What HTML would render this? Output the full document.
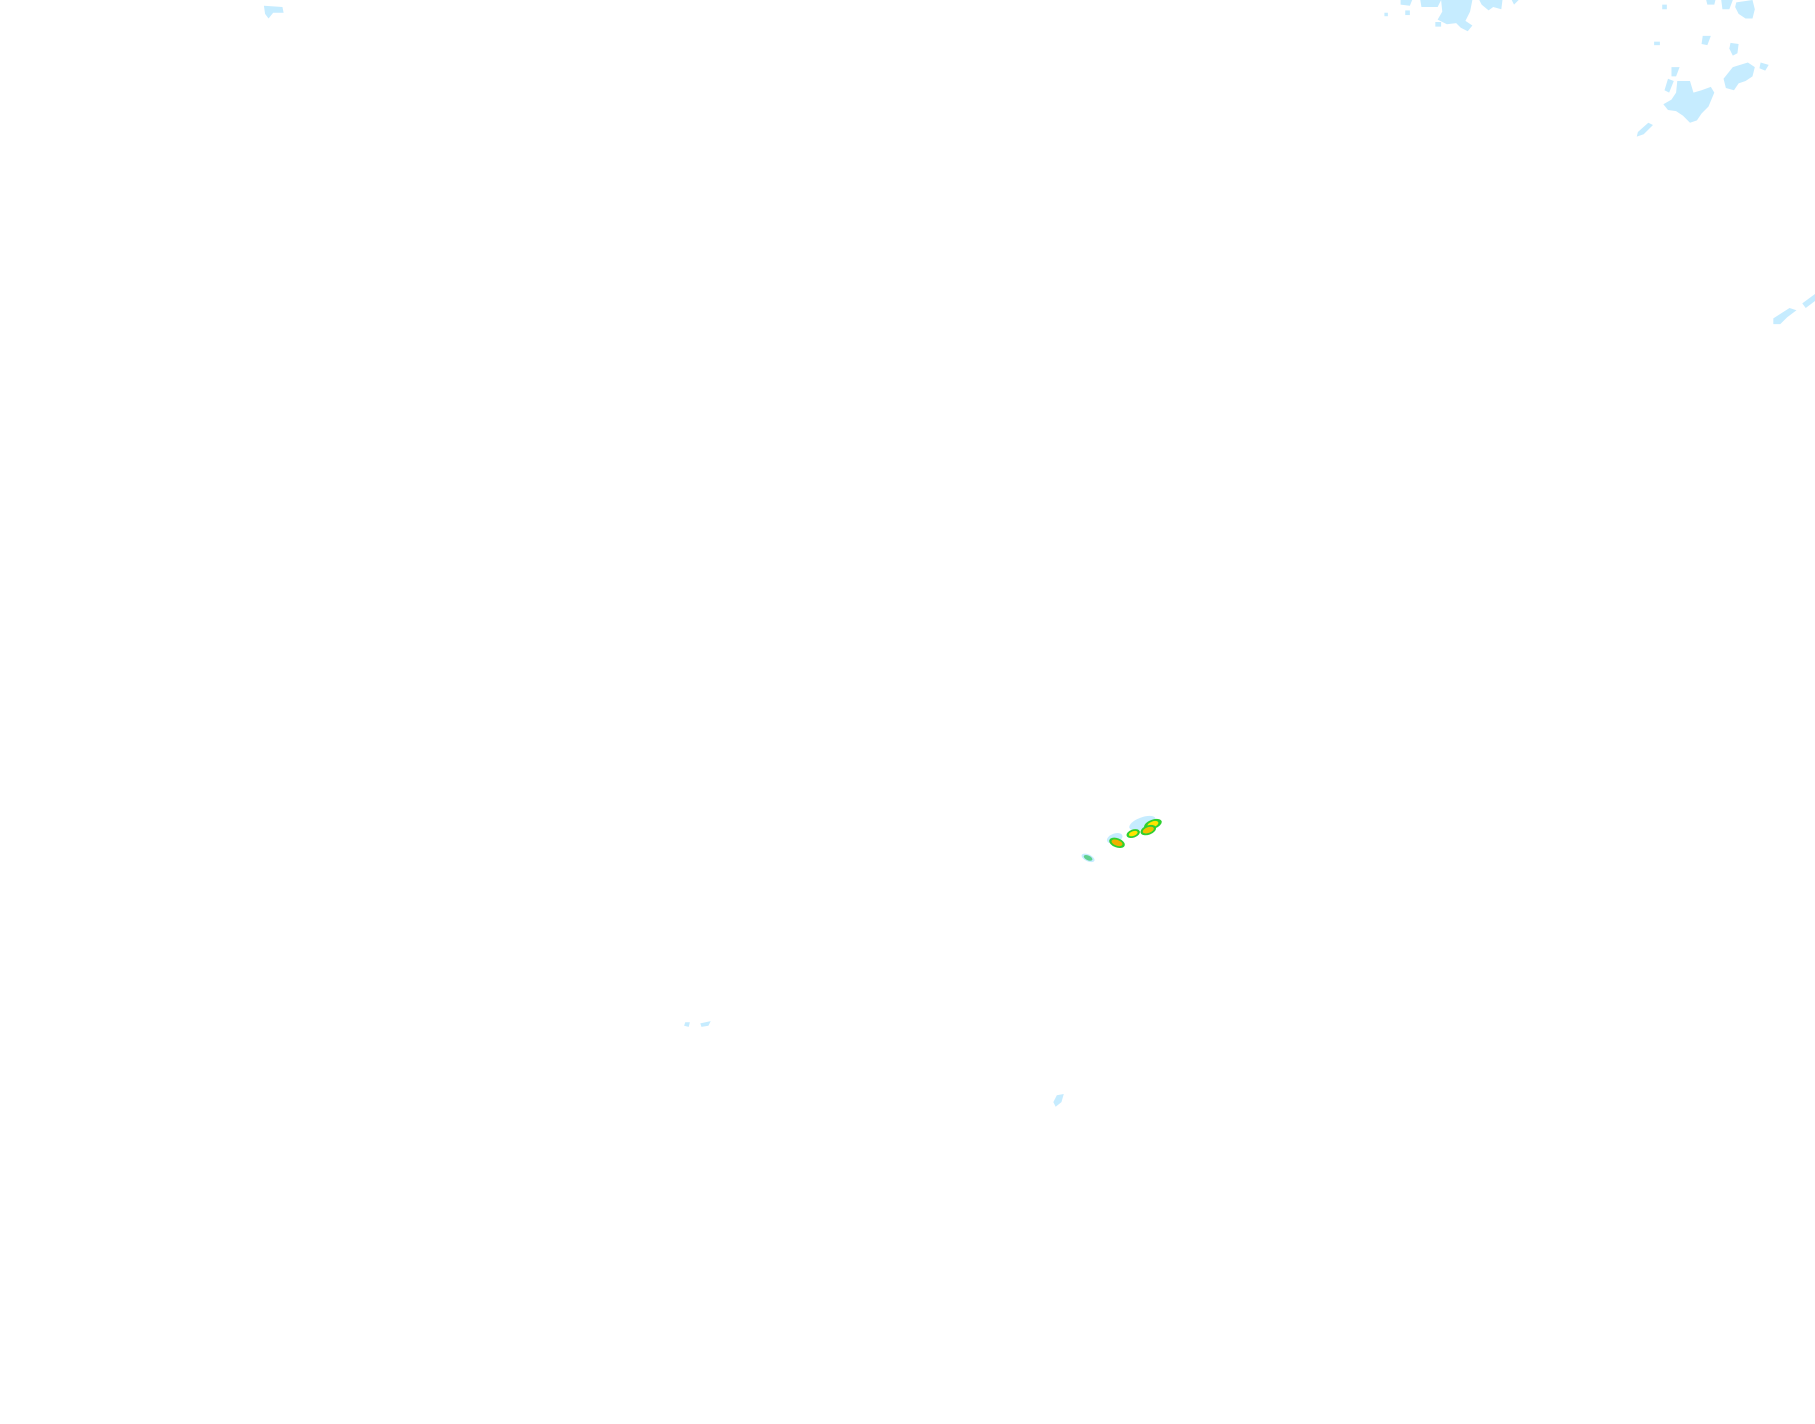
<!DOCTYPE html>
<html><head><meta charset="utf-8"><style>
html,body{margin:0;padding:0;background:#fff;width:1815px;height:1424px;overflow:hidden}
svg{display:block}
</style></head><body>
<svg width="1815" height="1424" viewBox="0 0 1568 1230" preserveAspectRatio="none" xmlns="http://www.w3.org/2000/svg">
<rect width="1568" height="1230" fill="#fff"/>
<g fill="#c6ecff">
<path d="M228 5 L244 6 L245 11 L236 11 L232 16 L229 12 Z"/>
<path d="M1210 0 L1220 0 L1218 5 L1210 4 Z"/>
<path d="M1227 0 L1245 0 L1242 6 L1228 6 Z"/>
<path d="M1245 0 L1272 0 L1270 10 L1266 18 L1272 22 L1268 27 L1262 24 L1258 20 L1250 21 L1242 17 L1246 10 Z"/>
<path d="M1278 0 L1298 0 L1297 8 L1290 6 L1286 9 L1280 4 Z"/>
<path d="M1306 0 L1312 0 L1308 4 Z"/>
<rect x="1196" y="11" width="3" height="3"/>
<rect x="1214" y="9" width="4" height="4"/>
<rect x="1240" y="19" width="5" height="4"/>
<rect x="1436" y="4" width="4" height="4"/>
<path d="M1474 0 L1482 0 L1481 4 L1475 4 Z"/>
<path d="M1487 0 L1497 0 L1494 8 L1488 8 Z"/>
<path d="M1500 2 L1514 0 L1516 8 L1514 16 L1508 16 L1502 12 L1499 6 Z"/>
<rect x="1429" y="36" width="5" height="3"/>
<path d="M1471 31 L1478 31 L1475 39 L1470 38 Z"/>
<path d="M1495 37 L1502 38 L1501 46 L1497 48 L1494 42 Z"/>
<path d="M1521 54 L1528 56 L1525 61 L1520 59 Z"/>
<path d="M1444 58 L1451 58 L1448 66 L1444 66 Z"/>
<path d="M1441 68 L1446 70 L1442 80 L1438 78 Z"/>
<path d="M1449 70 L1460 70 L1463 80 L1470 78 L1478 75 L1481 80 L1476 92 L1470 98 L1466 104 L1460 106 L1454 100 L1448 96 L1441 95 L1437 90 L1444 86 L1448 80 Z"/>
<path d="M1497 58 L1510 54 L1516 58 L1514 66 L1508 70 L1502 72 L1498 78 L1491 76 L1489 68 Z"/>
<path d="M1424 106 L1428 108 L1420 116 L1414 118 L1415 114 Z"/>
<path d="M1557 262 L1568 254 L1568 260 L1560 266 Z"/>
<path d="M1532 275 L1546 266 L1552 268 L1544 274 L1538 280 L1532 280 Z"/>
<ellipse cx="987" cy="711" rx="12" ry="5" transform="rotate(-20 987 711)"/>
<ellipse cx="963" cy="724" rx="7" ry="4" transform="rotate(-20 963 724)"/>
<ellipse cx="940" cy="741" rx="6" ry="3" transform="rotate(25 940 741)"/>
<path d="M592 883 L596 883 L595 887 L591 886 Z"/>
<path d="M605 884 L614 882 L612 886 L606 887 Z"/>
<path d="M913 946 L919 945 L917 952 L912 956 L910 952 Z"/>
</g>
<!-- storm cells -->
<g>
<ellipse cx="996" cy="712" rx="8" ry="4" fill="#2fd02f" transform="rotate(-20 996 712)"/>
<ellipse cx="996" cy="712" rx="5" ry="2.5" fill="#ffe400" transform="rotate(-20 996 712)"/>
<ellipse cx="992" cy="717" rx="7" ry="4" fill="#2fd02f" transform="rotate(-20 992 717)"/>
<ellipse cx="992" cy="717" rx="5" ry="2.5" fill="#f0c000" transform="rotate(-20 992 717)"/>
<ellipse cx="979" cy="720" rx="6" ry="3.5" fill="#2fd02f" transform="rotate(-20 979 720)"/>
<ellipse cx="979" cy="720" rx="4" ry="2" fill="#ffe400" transform="rotate(-20 979 720)"/>
<ellipse cx="965" cy="728" rx="7" ry="4" fill="#2fd02f" transform="rotate(20 965 728)"/>
<ellipse cx="965" cy="728" rx="5" ry="2.5" fill="#f0b000" transform="rotate(20 965 728)"/>
<ellipse cx="940" cy="741" rx="4" ry="2" fill="#5fd08f" transform="rotate(25 940 741)"/>
</g>
</svg>
</body></html>
